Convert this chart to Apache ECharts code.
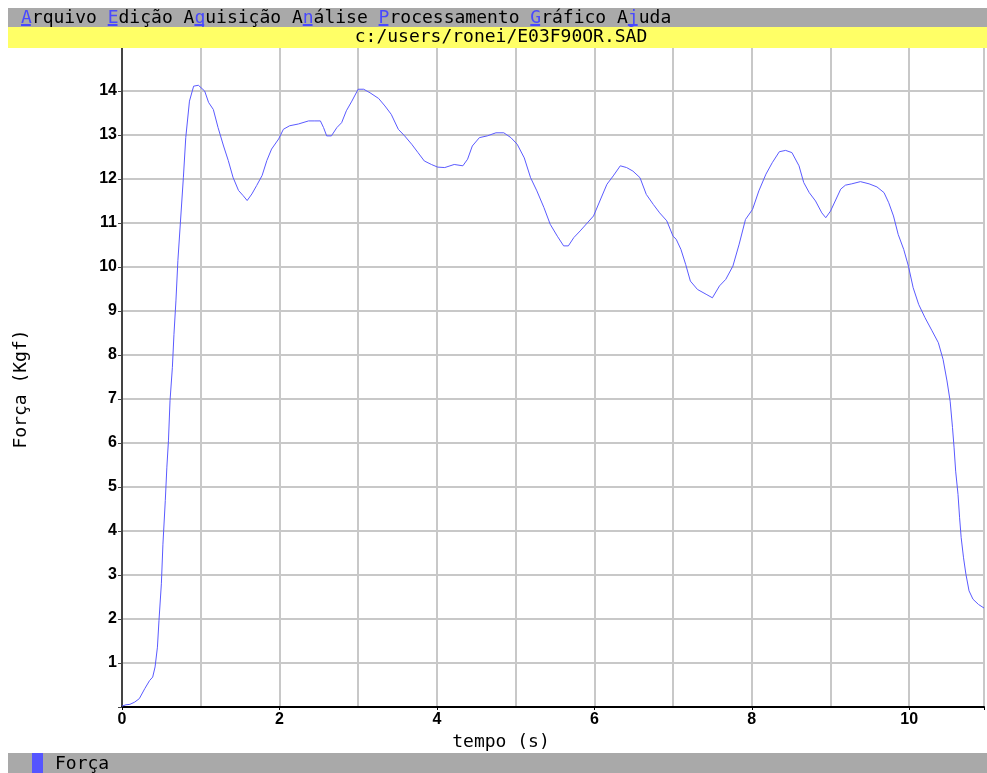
<!DOCTYPE html>
<html>
<head>
<meta charset="utf-8">
<script src="https://cdn.jsdelivr.net/npm/echarts@6/dist/echarts.min.js"></script>
<style>
html,body{margin:0;padding:0;background:#fff;}
#chart{width:987px;height:773px;}
</style>
</head>
<body>
<div id="chart"></div>
<script>
// time (s)
const tempo = [0.00,0.05,0.10,0.16,0.22,0.29,0.35,0.39,0.42,0.45,0.47,0.50,0.52,0.55,0.57,0.59,0.61,0.64,0.66,0.685,
0.71,0.78,0.81,0.857,0.91,0.97,1.05,1.10,1.16,1.22,1.29,1.35,1.41,1.48,1.54,1.59,1.65,1.71,1.78,1.84,1.90,1.99,
2.05,2.13,2.24,2.37,2.45,2.52,2.56,2.60,2.66,2.73,2.79,2.85,2.92,3.00,3.07,3.15,3.26,3.34,3.42,3.51,3.59,3.68,3.76,3.84,3.93,
4.01,4.10,4.22,4.33,4.39,4.45,4.54,4.64,4.75,4.85,4.94,5.02,5.11,5.19,5.27,5.36,5.44,5.53,5.61,5.67,5.74,5.82,5.91,5.99,
6.07,6.16,6.24,6.33,6.41,6.49,6.58,6.66,6.75,6.83,6.92,7.00,7.04,7.10,7.16,7.22,7.31,7.42,7.50,7.59,7.67,7.76,7.84,7.92,
8.01,8.09,8.18,8.26,8.35,8.43,8.51,8.60,8.66,8.73,8.81,8.89,8.94,9.00,9.06,9.13,9.19,9.27,9.38,9.49,9.59,9.68,9.74,9.80,9.86,9.93,9.99,
10.05,10.12,10.20,10.29,10.37,10.43,10.48,10.52,10.55,10.57,10.59,10.62,10.64,10.66,10.69,10.72,10.76,10.81,10.88,10.95];
// force (Kgf)
const forca = [0.02,0.05,0.06,0.11,0.19,0.42,0.60,0.68,0.91,1.36,1.97,2.80,3.70,4.69,5.45,6.05,6.96,7.72,8.47,9.23,
10.15,12.04,12.94,13.77,14.11,14.13,14.00,13.74,13.58,13.17,12.75,12.42,12.04,11.74,11.62,11.51,11.66,11.85,12.08,12.42,12.68,12.91,
13.13,13.21,13.25,13.32,13.32,13.32,13.17,12.98,12.98,13.17,13.28,13.55,13.77,14.04,14.04,13.96,13.83,13.66,13.47,13.13,12.98,12.79,12.60,12.41,12.33,
12.27,12.26,12.33,12.30,12.45,12.75,12.94,12.98,13.05,13.05,12.94,12.79,12.48,12.03,11.73,11.35,10.97,10.70,10.48,10.48,10.67,10.82,11.00,11.16,
11.50,11.88,12.07,12.30,12.26,12.18,12.03,11.65,11.42,11.23,11.05,10.70,10.63,10.40,10.06,9.68,9.49,9.38,9.30,9.57,9.72,10.02,10.52,11.08,
11.31,11.73,12.11,12.37,12.62,12.65,12.60,12.30,11.92,11.69,11.50,11.23,11.12,11.27,11.50,11.77,11.86,11.89,11.94,11.89,11.82,11.69,11.46,11.16,10.74,10.40,10.02,
9.53,9.15,8.85,8.55,8.28,7.90,7.41,6.95,6.35,5.89,5.36,4.83,4.30,3.85,3.39,3.02,2.64,2.45,2.33,2.25];

const menuItems = ['Arquivo','Edição','Aquisição','Análise','Processamento','Gráfico','Ajuda'];
const hotkeyIndex = [0,0,1,1,0,0,1];
const fileTitle = 'c:/users/ronei/E03F90OR.SAD';
const xName = 'tempo (s)';
const yName = 'Força (Kgf)';
const seriesName = 'Força';

const chart = echarts.init(document.getElementById('chart'));
const MONO = '"DejaVu Sans Mono", monospace';
const CW = 18 * 0.602; // monospace char width

let menuRich = '';
const underlines = [];
let pos = 0;
menuItems.forEach((w, k) => {
  const h = hotkeyIndex[k];
  menuRich += (h > 0 ? w.slice(0, h) : '') + '{h|' + w[h] + '}' + w.slice(h + 1) + (k < menuItems.length - 1 ? ' ' : '');
  underlines.push(pos + h);
  pos += w.length + 1;
});
const MENU_X = 21;

const graphics = [
  { type: 'rect', z: 100, shape: { x: 8, y: 8, width: 979, height: 19 }, style: { fill: '#a9a9a9' } },
  { type: 'rect', z: 100, shape: { x: 8, y: 27, width: 979, height: 21 }, style: { fill: '#ffff66' } },
  { type: 'text', z: 101, x: MENU_X, y: 18,
    style: { text: menuRich, font: '18px ' + MONO, fill: '#000', verticalAlign: 'middle',
      rich: { h: { fill: '#4848ff', font: '18px ' + MONO } } } },
  { type: 'text', z: 101, x: 501, y: 37,
    style: { text: fileTitle, font: '18px ' + MONO, fill: '#000', align: 'center', verticalAlign: 'middle' } },
  { type: 'rect', z: 100, shape: { x: 8, y: 753, width: 979, height: 20 }, style: { fill: '#a9a9a9' } },
  { type: 'rect', z: 101, shape: { x: 32, y: 753, width: 11, height: 20 }, style: { fill: '#5555ff' } },
  { type: 'text', z: 101, x: 55, y: 764,
    style: { text: seriesName, font: '18px ' + MONO, fill: '#000', verticalAlign: 'middle' } },
  { type: 'text', z: 101, x: 501, y: 742,
    style: { text: xName, font: '18px ' + MONO, fill: '#000', align: 'center', verticalAlign: 'middle' } },
  { type: 'text', z: 101, x: 21, y: 389, rotation: Math.PI / 2,
    style: { text: yName, font: '18px ' + MONO, fill: '#000', align: 'center', verticalAlign: 'middle' } }
];
underlines.forEach(i => {
  graphics.push({ type: 'rect', z: 102, shape: { x: MENU_X + i * CW, y: 24, width: CW - 1, height: 2 }, style: { fill: '#4848ff' } });
});

const gridLine = { show: true, lineStyle: { color: '#c8c8c8', width: 2 } };
const labelFont = { color: '#000', fontFamily: '"Liberation Sans", Arial, sans-serif', fontWeight: 'bold', fontSize: 16 };
const X_MAX = 10.95;

chart.setOption({
  animation: false,
  backgroundColor: '#fff',
  grid: { left: 122, right: 0, top: 47, bottom: 66, containLabel: false },
  xAxis: [{
    // grid lines every second
    type: 'value', min: 0, max: X_MAX, interval: 1, position: 'top',
    axisLine: { show: false }, axisTick: { show: false }, axisLabel: { show: false },
    splitLine: gridLine
  }, {
    // labelled axis, ticks every 2 s
    type: 'value', min: 0, max: X_MAX, interval: 2, position: 'bottom',
    axisLine: { show: true, onZero: false, lineStyle: { color: '#000', width: 2 } },
    axisTick: { show: true, length: 3, lineStyle: { color: '#000', width: 1 } },
    splitLine: { show: false },
    axisLabel: Object.assign({ margin: 5, formatter: v => (Number.isInteger(v) ? String(v) : '') }, labelFont)
  }],
  yAxis: {
    type: 'value', min: 0, max: 15, interval: 1,
    axisLine: { show: true, lineStyle: { color: '#444', width: 2 } },
    axisTick: { show: true, length: 4, lineStyle: { color: '#444', width: 1 } },
    splitLine: gridLine,
    axisLabel: Object.assign({ margin: 5, formatter: v => (v === 0 || v === 15) ? '' : String(v) }, labelFont)
  },
  graphic: graphics,
  series: [{
    name: seriesName, type: 'line', showSymbol: false, symbol: 'none', xAxisIndex: 1,
    lineStyle: { color: '#5a5aff', width: 1 },
    data: tempo.map((t, i) => [t, forca[i]]),
    z: 5
  }]
});
</script>
</body>
</html>
